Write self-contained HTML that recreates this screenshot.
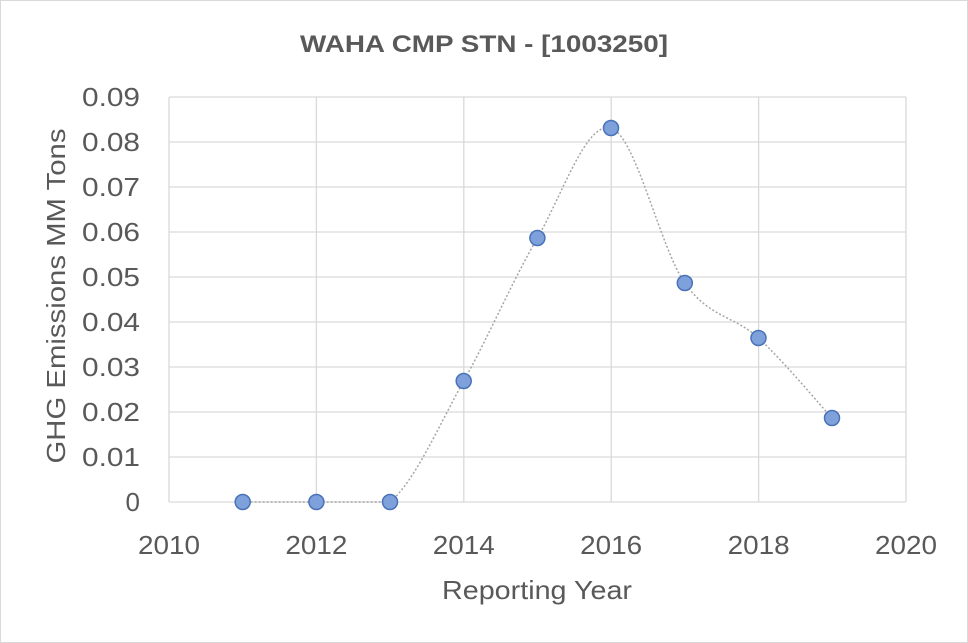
<!DOCTYPE html>
<html><head><meta charset="utf-8"><style>
html,body{margin:0;padding:0;background:#fff;}
svg{display:block;font-family:"Liberation Sans",Arial,sans-serif;}
</style></head><body>
<svg width="968" height="643" viewBox="0 0 968 643" xmlns="http://www.w3.org/2000/svg">
<rect x="0.5" y="0.5" width="967" height="642" fill="#fff" stroke="#d9d9d9"/>
<text x="484" y="52" text-anchor="middle" font-size="24" font-weight="bold" fill="#595959" textLength="368" lengthAdjust="spacingAndGlyphs">WAHA CMP STN - [1003250]</text>
<g stroke="#d9d9d9" stroke-width="1.3">
<line x1="169" y1="97" x2="906" y2="97"/>
<line x1="169" y1="142" x2="906" y2="142"/>
<line x1="169" y1="187" x2="906" y2="187"/>
<line x1="169" y1="232" x2="906" y2="232"/>
<line x1="169" y1="277" x2="906" y2="277"/>
<line x1="169" y1="322" x2="906" y2="322"/>
<line x1="169" y1="367" x2="906" y2="367"/>
<line x1="169" y1="412" x2="906" y2="412"/>
<line x1="169" y1="457" x2="906" y2="457"/>
<line x1="169" y1="502" x2="906" y2="502"/>
<line x1="169" y1="97" x2="169" y2="502"/>
<line x1="316.4" y1="97" x2="316.4" y2="502"/>
<line x1="463.8" y1="97" x2="463.8" y2="502"/>
<line x1="611.2" y1="97" x2="611.2" y2="502"/>
<line x1="758.6" y1="97" x2="758.6" y2="502"/>
<line x1="906" y1="97" x2="906" y2="502"/>
</g>
<g font-size="26" fill="#595959" text-anchor="end">
<text x="140" y="106" textLength="58" lengthAdjust="spacingAndGlyphs">0.09</text>
<text x="140" y="151" textLength="58" lengthAdjust="spacingAndGlyphs">0.08</text>
<text x="140" y="196" textLength="58" lengthAdjust="spacingAndGlyphs">0.07</text>
<text x="140" y="241" textLength="58" lengthAdjust="spacingAndGlyphs">0.06</text>
<text x="140" y="286" textLength="58" lengthAdjust="spacingAndGlyphs">0.05</text>
<text x="140" y="331" textLength="58" lengthAdjust="spacingAndGlyphs">0.04</text>
<text x="140" y="376" textLength="58" lengthAdjust="spacingAndGlyphs">0.03</text>
<text x="140" y="421" textLength="58" lengthAdjust="spacingAndGlyphs">0.02</text>
<text x="140" y="466" textLength="58" lengthAdjust="spacingAndGlyphs">0.01</text>
<text x="140" y="511">0</text>
</g>
<g font-size="26" fill="#595959" text-anchor="middle">
<text x="169" y="554" textLength="62" lengthAdjust="spacingAndGlyphs">2010</text>
<text x="316.4" y="554" textLength="62" lengthAdjust="spacingAndGlyphs">2012</text>
<text x="463.8" y="554" textLength="62" lengthAdjust="spacingAndGlyphs">2014</text>
<text x="611.2" y="554" textLength="62" lengthAdjust="spacingAndGlyphs">2016</text>
<text x="758.6" y="554" textLength="62" lengthAdjust="spacingAndGlyphs">2018</text>
<text x="906" y="554" textLength="62" lengthAdjust="spacingAndGlyphs">2020</text>
<text x="537" y="599" textLength="190" lengthAdjust="spacingAndGlyphs">Reporting Year</text>
</g>
<text transform="translate(65,296) rotate(-90)" text-anchor="middle" font-size="26" fill="#595959" textLength="335" lengthAdjust="spacingAndGlyphs">GHG Emissions MM Tons</text>
<path d="M242.7,502 C255,502 291.9,502 316.4,502 C340.9,502 365.4,502 390,502 C414.6,481.8 439.1,425 463.7,381 C488.3,337 512.8,280.2 537.4,238 C562,195.8 586.4,120.5 611,128 C635.6,135.5 660.2,248 684.8,283 C709.4,318 734,315.5 758.5,338 C783,360.5 819.7,404.7 832,418" fill="none" stroke="#a6a6a6" stroke-width="1.5" stroke-dasharray="2,2"/>
<g fill="#7ea1dc" stroke="#4a72b8" stroke-width="1.5">
<circle cx="242.7" cy="502" r="7.5"/>
<circle cx="316.4" cy="502" r="7.5"/>
<circle cx="390" cy="502" r="7.5"/>
<circle cx="463.7" cy="381" r="7.5"/>
<circle cx="537.4" cy="238" r="7.5"/>
<circle cx="611" cy="128" r="7.5"/>
<circle cx="684.8" cy="283" r="7.5"/>
<circle cx="758.5" cy="338" r="7.5"/>
<circle cx="832" cy="418" r="7.5"/>
</g>
</svg>
</body></html>
